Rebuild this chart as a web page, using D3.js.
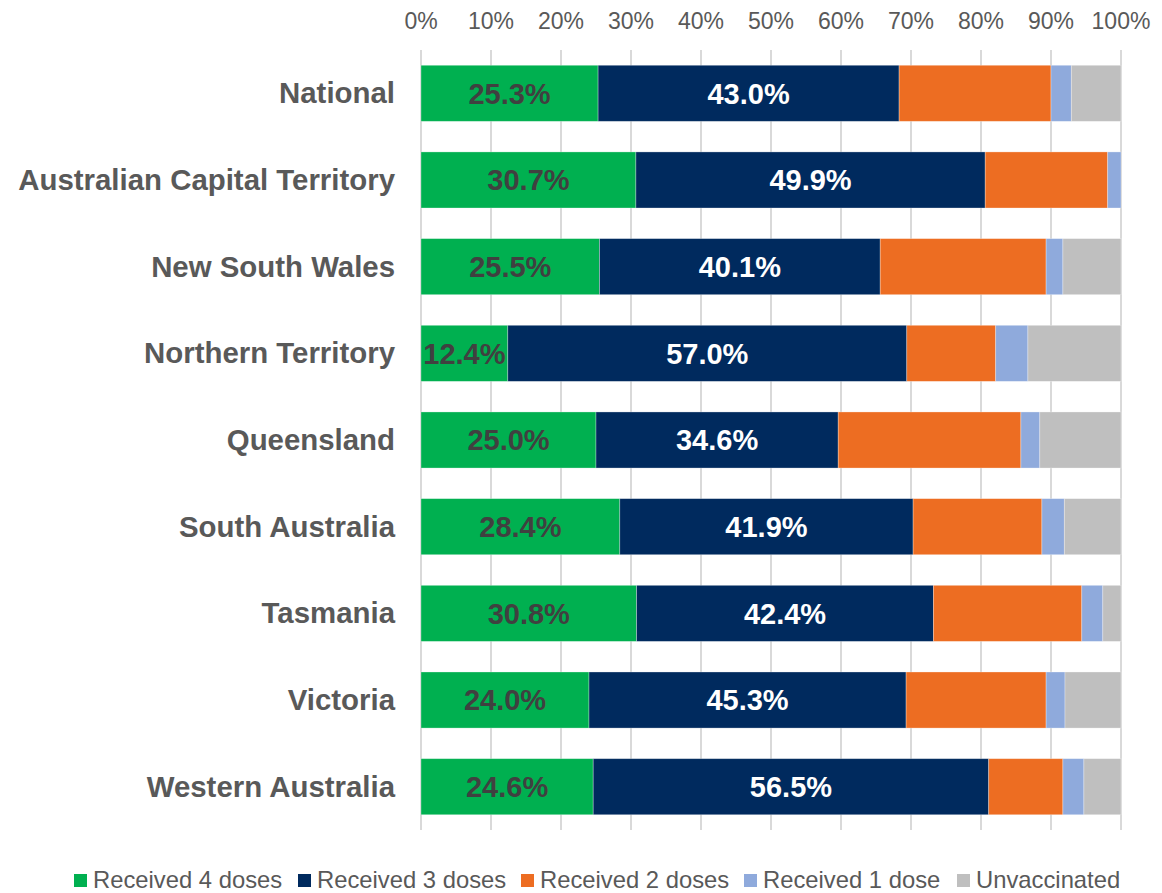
<!DOCTYPE html>
<html>
<head>
<meta charset="utf-8">
<script src="https://cdn.jsdelivr.net/npm/d3@7"></script>
<style>
  body { margin: 0; background: #fff; }
  text { font-family: Arial, "Liberation Sans", sans-serif; }
</style>
</head>
<body>
<div id="chart"></div>
<script>
const regions = ['National', 'Australian Capital Territory', 'New South Wales', 'Northern Territory',
  'Queensland', 'South Australia', 'Tasmania', 'Victoria', 'Western Australia'];

const seriesNames = ['Received 4 doses', 'Received 3 doses', 'Received 2 doses', 'Received 1 dose', 'Unvaccinated'];
const seriesColors = ['#00b050', '#002a5e', '#ed6d22', '#8faadc', '#bfbfbf'];

// percent of population, per region (same order as regions)
const fourDoses  = [25.3, 30.7, 25.5, 12.4, 25.0, 28.4, 30.8, 24.0, 24.6];
const threeDoses = [43.0, 49.9, 40.1, 57.0, 34.6, 41.9, 42.4, 45.3, 56.5];
const twoDoses   = [21.7, 17.5, 23.7, 12.7, 26.1, 18.4, 21.2, 20.0, 10.6];
const oneDose    = [2.9, 1.9, 2.4, 4.6, 2.7, 3.2, 3.0, 2.7, 3.0];
const unvacc     = [7.1, 0.0, 8.3, 13.3, 11.6, 8.1, 2.6, 8.0, 5.3];

const xTicks = [0, 10, 20, 30, 40, 50, 60, 70, 80, 90, 100];

const W = 1162, H = 893;
const margin = {top: 50, right: 41, bottom: 63, left: 421};

const rows = regions.map((r, i) => ({
  region: r,
  values: [fourDoses[i], threeDoses[i], twoDoses[i], oneDose[i], unvacc[i]],
}));

const svg = d3.select('#chart').append('svg')
  .attr('width', W)
  .attr('height', H);

const x = d3.scaleLinear()
  .domain([0, 100])
  .range([margin.left, W - margin.right]);

const y = d3.scaleBand()
  .domain(regions)
  .range([margin.top, H - margin.bottom])
  .paddingInner(0.353)
  .paddingOuter(0.176);

// gridlines
svg.append('g')
  .selectAll('line')
  .data(xTicks)
  .enter().append('line')
    .attr('x1', d => x(d))
    .attr('x2', d => x(d))
    .attr('y1', margin.top)
    .attr('y2', H - margin.bottom)
    .attr('stroke', '#d9d9d9')
    .attr('stroke-width', 2);

// top axis labels
svg.append('g')
  .selectAll('text')
  .data(xTicks)
  .enter().append('text')
    .attr('x', d => x(d))
    .attr('y', 29)
    .attr('text-anchor', 'middle')
    .attr('font-size', 23)
    .attr('fill', '#595959')
    .text(d => d + '%');

// stacked bars
const stack = rows.map(row => {
  let acc = 0;
  return row.values.map((v, k) => {
    const seg = {region: row.region, k, v, x0: acc, x1: acc + v};
    acc += v;
    return seg;
  });
}).flat();

svg.append('g')
  .selectAll('rect')
  .data(stack.filter(d => d.v > 0))
  .enter().append('rect')
    .attr('x', d => x(d.x0))
    .attr('y', d => y(d.region))
    .attr('width', d => x(d.x1) - x(d.x0))
    .attr('height', y.bandwidth())
    .attr('fill', d => seriesColors[d.k])
    .attr('stroke', '#ffffff')
    .attr('stroke-opacity', 0.4)
    .attr('stroke-width', 0.75);

// data labels on first two series
svg.append('g')
  .selectAll('text')
  .data(stack.filter(d => d.k < 2))
  .enter().append('text')
    .attr('x', d => (x(d.x0) + x(d.x1)) / 2)
    .attr('y', d => y(d.region) + y.bandwidth() / 2)
    .attr('dy', '0.36em')
    .attr('text-anchor', 'middle')
    .attr('font-size', 29)
    .attr('font-weight', 'bold')
    .attr('fill', d => d.k === 0 ? '#404040' : '#ffffff')
    .text(d => d.v.toFixed(1) + '%');

// category labels
svg.append('g')
  .selectAll('text')
  .data(regions)
  .enter().append('text')
    .attr('x', 395)
    .attr('y', d => y(d) + y.bandwidth() / 2)
    .attr('dy', '0.34em')
    .attr('text-anchor', 'end')
    .attr('font-size', 29.4)
    .attr('font-weight', 'bold')
    .attr('fill', '#595959')
    .text(d => d);

// legend
const legendX = [74, 298, 521, 744, 957];
const legend = svg.append('g')
  .selectAll('g')
  .data(seriesNames)
  .enter().append('g')
    .attr('transform', (d, i) => `translate(${legendX[i]},874)`);

legend.append('rect')
  .attr('width', 13)
  .attr('height', 13)
  .attr('fill', (d, i) => seriesColors[i]);

legend.append('text')
  .attr('x', 19)
  .attr('y', 14)
  .attr('font-size', 23.8)
  .attr('fill', '#595959')
  .text(d => d);
</script>
</body>
</html>
